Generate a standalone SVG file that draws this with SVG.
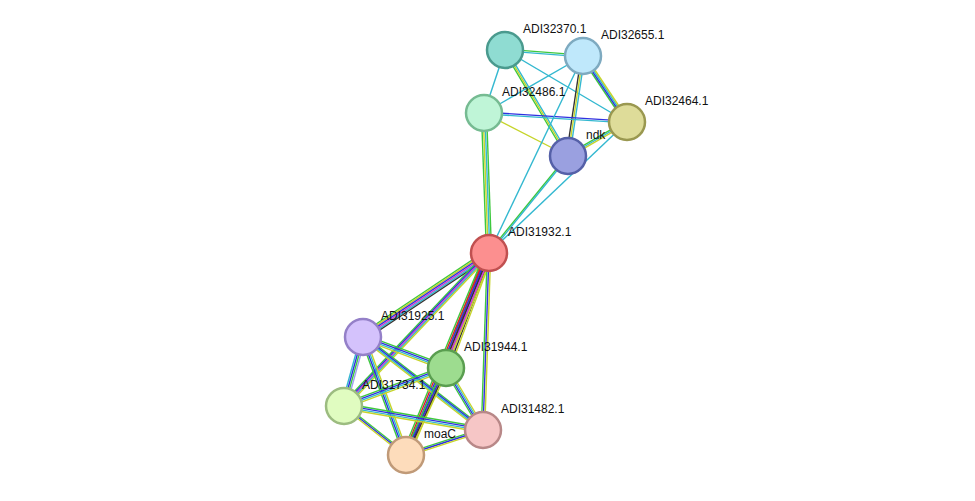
<svg xmlns="http://www.w3.org/2000/svg" width="975" height="501" viewBox="0 0 975 501">
<style>
line{stroke-width:1.4}
.g{stroke:#3ec83e}.c{stroke:#33b8d0}.y{stroke:#c6d42a}.b{stroke:#3030e0}.m{stroke:#d040d0}.k{stroke:#333}.r{stroke:#e02020}.l{stroke:#a0a0f0}
circle{stroke-width:2.5}
text{font-family:"Liberation Sans",Arial,sans-serif;font-size:12px;fill:#111}
</style>
<rect width="975" height="501" fill="#fff"/>
<g id="connectors">
<line class="g" x1="505" y1="50" x2="583" y2="56" transform="translate(0 -0.85)"/><line class="c" x1="505" y1="50" x2="583" y2="56" transform="translate(0 0.85)"/>
<line class="c" x1="505" y1="50" x2="484" y2="113"/>
<line class="g" x1="505" y1="50" x2="568" y2="156" transform="translate(-1.7 0)"/><line class="y" x1="505" y1="50" x2="568" y2="156"/><line class="c" x1="505" y1="50" x2="568" y2="156" transform="translate(1.7 0)"/>
<line class="c" x1="505" y1="50" x2="627" y2="122"/>
<line class="c" x1="583" y1="56" x2="484" y2="113"/>
<line class="k" x1="583" y1="56" x2="568" y2="156" transform="translate(-1.7 0)"/><line class="y" x1="583" y1="56" x2="568" y2="156"/><line class="c" x1="583" y1="56" x2="568" y2="156" transform="translate(1.7 0)"/>
<line class="g" x1="583" y1="56" x2="627" y2="122" transform="translate(-2.55 0)"/><line class="b" x1="583" y1="56" x2="627" y2="122" transform="translate(-0.85 0)"/><line class="c" x1="583" y1="56" x2="627" y2="122" transform="translate(0.85 0)"/><line class="y" x1="583" y1="56" x2="627" y2="122" transform="translate(2.55 0)"/>
<line class="b" x1="484" y1="113" x2="627" y2="122" transform="translate(0 -0.85)"/><line class="c" x1="484" y1="113" x2="627" y2="122" transform="translate(0 0.85)"/>
<line class="y" x1="484" y1="113" x2="568" y2="156"/>
<line class="g" x1="568" y1="156" x2="627" y2="122" transform="translate(0 -1.7)"/><line class="c" x1="568" y1="156" x2="627" y2="122"/><line class="y" x1="568" y1="156" x2="627" y2="122" transform="translate(0 1.7)"/>
<line class="g" x1="484" y1="113" x2="489" y2="253" transform="translate(-2.55 0)"/><line class="y" x1="484" y1="113" x2="489" y2="253" transform="translate(-0.85 0)"/><line class="c" x1="484" y1="113" x2="489" y2="253" transform="translate(0.85 0)"/><line class="g" x1="484" y1="113" x2="489" y2="253" transform="translate(2.55 0)"/>
<line class="g" x1="568" y1="156" x2="489" y2="253" transform="translate(-0.85 0)"/><line class="c" x1="568" y1="156" x2="489" y2="253" transform="translate(0.85 0)"/>
<line class="c" x1="627" y1="122" x2="489" y2="253"/>
<line class="c" x1="583" y1="56" x2="489" y2="253"/>
<line class="g" x1="489" y1="253" x2="363" y2="337" transform="translate(0 -4.25)"/><line class="y" x1="489" y1="253" x2="363" y2="337" transform="translate(0 -2.55)"/><line class="b" x1="489" y1="253" x2="363" y2="337" transform="translate(0 -0.85)"/><line class="m" x1="489" y1="253" x2="363" y2="337" transform="translate(0 0.85)"/><line class="c" x1="489" y1="253" x2="363" y2="337" transform="translate(0 2.55)"/><line class="k" x1="489" y1="253" x2="363" y2="337" transform="translate(0 4.25)"/>
<line class="g" x1="489" y1="253" x2="446" y2="368" transform="translate(-4.25 0)"/><line class="r" x1="489" y1="253" x2="446" y2="368" transform="translate(-2.55 0)"/><line class="b" x1="489" y1="253" x2="446" y2="368" transform="translate(-0.85 0)"/><line class="m" x1="489" y1="253" x2="446" y2="368" transform="translate(0.85 0)"/><line class="k" x1="489" y1="253" x2="446" y2="368" transform="translate(2.55 0)"/><line class="y" x1="489" y1="253" x2="446" y2="368" transform="translate(4.25 0)"/>
<line class="g" x1="489" y1="253" x2="344" y2="406" transform="translate(-3.4 0)"/><line class="b" x1="489" y1="253" x2="344" y2="406" transform="translate(-1.7 0)"/><line class="m" x1="489" y1="253" x2="344" y2="406"/><line class="c" x1="489" y1="253" x2="344" y2="406" transform="translate(1.7 0)"/><line class="y" x1="489" y1="253" x2="344" y2="406" transform="translate(3.4 0)"/>
<line class="g" x1="489" y1="253" x2="483" y2="430" transform="translate(-1.7 0)"/><line class="b" x1="489" y1="253" x2="483" y2="430"/><line class="y" x1="489" y1="253" x2="483" y2="430" transform="translate(1.7 0)"/>
<line class="g" x1="489" y1="253" x2="406" y2="455" transform="translate(-4.25 0)"/><line class="r" x1="489" y1="253" x2="406" y2="455" transform="translate(-2.55 0)"/><line class="b" x1="489" y1="253" x2="406" y2="455" transform="translate(-0.85 0)"/><line class="k" x1="489" y1="253" x2="406" y2="455" transform="translate(0.85 0)"/><line class="m" x1="489" y1="253" x2="406" y2="455" transform="translate(2.55 0)"/><line class="y" x1="489" y1="253" x2="406" y2="455" transform="translate(4.25 0)"/>
<line class="g" x1="363" y1="337" x2="446" y2="368" transform="translate(0 -2.55)"/><line class="b" x1="363" y1="337" x2="446" y2="368" transform="translate(0 -0.85)"/><line class="c" x1="363" y1="337" x2="446" y2="368" transform="translate(0 0.85)"/><line class="y" x1="363" y1="337" x2="446" y2="368" transform="translate(0 2.55)"/>
<line class="c" x1="363" y1="337" x2="344" y2="406" transform="translate(-2.55 0)"/><line class="b" x1="363" y1="337" x2="344" y2="406" transform="translate(-0.85 0)"/><line class="g" x1="363" y1="337" x2="344" y2="406" transform="translate(0.85 0)"/><line class="l" x1="363" y1="337" x2="344" y2="406" transform="translate(2.55 0)"/>
<line class="g" x1="363" y1="337" x2="483" y2="430" transform="translate(0 -2.55)"/><line class="b" x1="363" y1="337" x2="483" y2="430" transform="translate(0 -0.85)"/><line class="c" x1="363" y1="337" x2="483" y2="430" transform="translate(0 0.85)"/><line class="y" x1="363" y1="337" x2="483" y2="430" transform="translate(0 2.55)"/>
<line class="g" x1="363" y1="337" x2="406" y2="455" transform="translate(-2.55 0)"/><line class="b" x1="363" y1="337" x2="406" y2="455" transform="translate(-0.85 0)"/><line class="c" x1="363" y1="337" x2="406" y2="455" transform="translate(0.85 0)"/><line class="y" x1="363" y1="337" x2="406" y2="455" transform="translate(2.55 0)"/>
<line class="g" x1="446" y1="368" x2="344" y2="406" transform="translate(0 -2.55)"/><line class="b" x1="446" y1="368" x2="344" y2="406" transform="translate(0 -0.85)"/><line class="c" x1="446" y1="368" x2="344" y2="406" transform="translate(0 0.85)"/><line class="y" x1="446" y1="368" x2="344" y2="406" transform="translate(0 2.55)"/>
<line class="g" x1="446" y1="368" x2="483" y2="430" transform="translate(-2.55 0)"/><line class="b" x1="446" y1="368" x2="483" y2="430" transform="translate(-0.85 0)"/><line class="c" x1="446" y1="368" x2="483" y2="430" transform="translate(0.85 0)"/><line class="y" x1="446" y1="368" x2="483" y2="430" transform="translate(2.55 0)"/>
<line class="g" x1="446" y1="368" x2="406" y2="455" transform="translate(-2.55 0)"/><line class="b" x1="446" y1="368" x2="406" y2="455" transform="translate(-0.85 0)"/><line class="k" x1="446" y1="368" x2="406" y2="455" transform="translate(0.85 0)"/><line class="y" x1="446" y1="368" x2="406" y2="455" transform="translate(2.55 0)"/>
<line class="g" x1="344" y1="406" x2="483" y2="430" transform="translate(0 -2.55)"/><line class="b" x1="344" y1="406" x2="483" y2="430" transform="translate(0 -0.85)"/><line class="c" x1="344" y1="406" x2="483" y2="430" transform="translate(0 0.85)"/><line class="y" x1="344" y1="406" x2="483" y2="430" transform="translate(0 2.55)"/>
<line class="g" x1="344" y1="406" x2="406" y2="455" transform="translate(0 -1.7)"/><line class="b" x1="344" y1="406" x2="406" y2="455"/><line class="y" x1="344" y1="406" x2="406" y2="455" transform="translate(0 1.7)"/>
<line class="g" x1="483" y1="430" x2="406" y2="455" transform="translate(0 -1.7)"/><line class="b" x1="483" y1="430" x2="406" y2="455"/><line class="y" x1="483" y1="430" x2="406" y2="455" transform="translate(0 1.7)"/>
</g>
<g id="ADI32370.1"><circle cx="505" cy="50" r="18" fill="#8fdcd2" stroke="#4a9a8e"/><text x="523" y="33">ADI32370.1</text></g>
<g id="ADI32655.1"><circle cx="583" cy="56" r="18" fill="#bfe8fb" stroke="#7eaac0"/><text x="601" y="39">ADI32655.1</text></g>
<g id="ADI32486.1"><circle cx="484" cy="113" r="18" fill="#bff5d7" stroke="#76bb92"/><text x="502" y="96">ADI32486.1</text></g>
<g id="ADI32464.1"><circle cx="627" cy="122" r="18" fill="#dedc99" stroke="#9a9850"/><text x="645" y="105">ADI32464.1</text></g>
<g id="ndk"><circle cx="568" cy="156" r="18" fill="#9aa0e0" stroke="#5560a8"/><text x="586" y="139">ndk</text></g>
<g id="ADI31932.1"><circle cx="489" cy="253" r="18" fill="#fc8f8f" stroke="#c05050"/><text x="508" y="236">ADI31932.1</text></g>
<g id="ADI31925.1"><circle cx="363" cy="337" r="18" fill="#d4c2fc" stroke="#9480c8"/><text x="381" y="320">ADI31925.1</text></g>
<g id="ADI31944.1"><circle cx="446" cy="368" r="18" fill="#9ddc8f" stroke="#5a9e50"/><text x="464" y="351">ADI31944.1</text></g>
<g id="ADI31734.1"><circle cx="344" cy="406" r="18" fill="#e0fcc0" stroke="#9cbc80"/><text x="362" y="389">ADI31734.1</text></g>
<g id="ADI31482.1"><circle cx="483" cy="430" r="18" fill="#f6c6c6" stroke="#b88888"/><text x="501" y="413">ADI31482.1</text></g>
<g id="moaC"><circle cx="406" cy="455" r="18" fill="#fddcbb" stroke="#c09a78"/><text x="424" y="438">moaC</text></g>
</svg>
